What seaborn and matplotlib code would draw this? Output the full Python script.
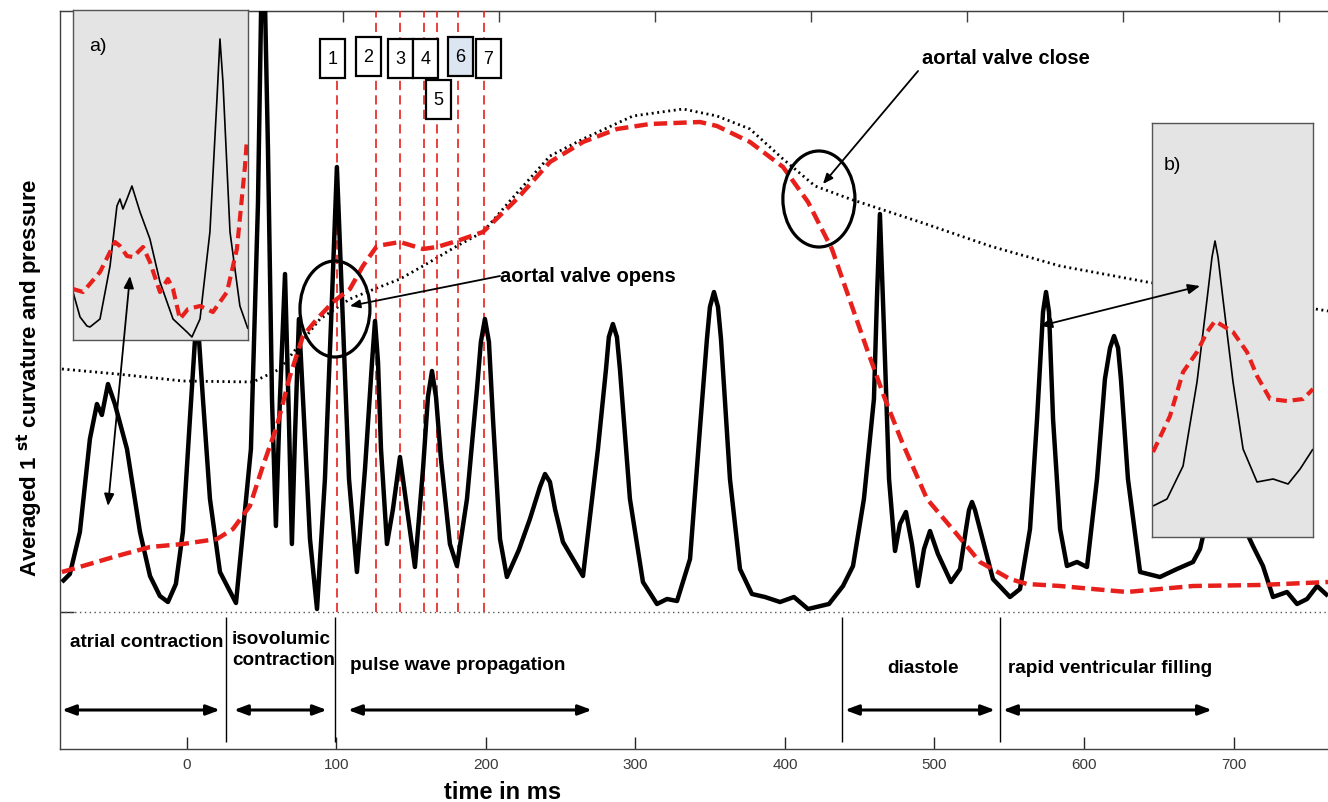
import numpy as np
import pandas as pd
import seaborn as sns
import matplotlib.pyplot as plt
from matplotlib.patches import Ellipse, Rectangle, FancyArrowPatch

sns.set_style('ticks')
plt.rcParams['font.family'] = ['Liberation Sans', 'DejaVu Sans']
plt.rcParams['text.color'] = 'black'
NARROW = ['Liberation Sans Narrow', 'Liberation Sans']

# averaged 1st curvature (time in ms, arbitrary units above the dotted baseline)
curv_t = [-83.6, -78.3, -71.6, -64.9, -60.2, -56.9, -52.8, -48.2, -40.1, -31.4, -24.7, -18.1, -12.7, -7.4,
          -2.7, 2.0, 6.7, 10.7, 15.4, 22.1, 32.8, 42.8, 47.5, 50.8, 54.2, 56.9, 59.5, 62.2, 65.6, 68.2,
          70.2, 72.2, 74.9, 78.3, 82.3, 87.0, 92.3, 97.0, 100.3, 103.7, 108.4, 113.7, 119.1, 123.8, 125.8,
          127.8, 129.8, 133.8, 137.8, 142.5, 147.2, 152.5, 157.9, 161.2, 163.9, 166.6, 169.9, 175.9, 180.6,
          187.3, 194.0, 196.6, 199.3, 202.0, 204.7, 209.4, 214.0, 222.0, 229.4, 236.1, 239.5, 242.8, 246.2,
          251.5, 256.2, 264.9, 274.9, 280.3, 282.2, 284.9, 287.6, 289.6, 296.3, 305.0, 314.4, 321.1, 327.8,
          336.5, 343.1, 347.8, 349.8, 352.5, 355.2, 357.2, 363.2, 369.9, 377.9, 386.6, 396.7, 406.0,
          415.4, 429.4, 438.8, 445.5, 452.8, 459.5, 461.5, 463.5, 466.2, 469.6, 473.6, 476.9, 480.9, 484.9,
          488.9, 493.0, 497.0, 502.3, 511.0, 517.1, 521.1, 523.1, 525.1, 527.1, 530.4, 539.1, 550.5, 557.2,
          563.9, 568.6, 572.6, 574.6, 576.6, 579.3, 584.0, 588.6, 595.3, 602.0, 608.7, 614.0, 617.4, 620.1,
          622.8, 624.7, 629.4, 637.5, 650.8, 662.2, 672.9, 677.6, 682.3, 687.6, 694.3, 701.0, 707.7, 713.0,
          719.7, 726.4, 735.8, 742.5, 749.2, 755.9, 763.2]
curv_y = [30, 38, 80, 173, 208, 197, 228, 208, 163, 80, 36, 16, 10, 28,
          80, 193, 303, 213, 113, 40, 9, 163, 408, 713, 463, 213, 86, 213, 338, 193,
          68, 173, 293, 193, 73, 3, 133, 313, 445, 313, 133, 40, 143, 250, 291,
          250, 163, 68, 103, 155, 103, 45, 143, 215, 241, 215, 153, 68, 46,
          113, 223, 270, 293, 270, 193, 73, 35, 62, 93, 125, 138, 130, 103,
          70, 58, 36, 163, 243, 275, 288, 275, 243, 113, 30, 8, 13, 11,
          53, 183, 273, 305, 320, 305, 273, 133, 43, 18, 15, 10, 15,
          3, 8, 26, 46, 113, 213, 313, 398, 283, 133, 61, 88, 100, 68,
          26, 63, 81, 58, 30, 43, 83, 102, 110, 102, 83, 33, 15, 23,
          83, 193, 300, 320, 300, 193, 83, 46, 50, 45, 133, 233, 264, 276,
          264, 233, 133, 40, 35, 43, 50, 63, 93, 213, 293, 213, 83, 66,
          46, 15, 20, 8, 13, 26, 16]

# ventricular pressure (red dashed)
press_t = [-83.6, -69.6, -46.8, -24.7, -2.7, 20.1, 30.8, 42.1, 50.8, 60.2, 68.9, 77.6, 87.0, 97.7, 109.0,
           117.7, 127.1, 142.5, 157.9, 167.2, 180.6, 198.0, 220.7, 242.8, 264.9, 287.6, 309.7, 343.1, 354.5,
           376.6, 398.7, 415.4, 431.4, 454.8, 466.9, 478.3, 495.0, 513.7, 530.4, 550.5, 561.9, 584.0, 606.0,
           628.8, 650.8, 672.9, 717.7, 763.2]
press_y = [40, 46, 56, 65, 68, 73, 83, 106, 146, 186, 236, 276, 293, 310, 323,
           346, 366, 370, 363, 365, 371, 380, 413, 450, 470, 483, 488, 490, 486,
           470, 445, 410, 363, 263, 213, 170, 113, 80, 50, 33, 28, 26, 23,
           20, 23, 26, 27, 30]

# aortic pressure (black dotted)
aorta_t = [-83.6, -46.8, -2.7, 44.1, 62.2, 75.6, 89.0, 109.0, 120.4, 142.5, 157.9, 180.6, 198.0, 215.4,
           242.8, 264.9, 298.3, 331.8, 354.5, 376.6, 398.7, 420.1, 443.5, 490.3, 537.1, 584.0, 642.1, 763.2]
aorta_y = [243, 238, 231, 230, 243, 268, 293, 313, 320, 333, 346, 366, 380, 410,
           456, 473, 496, 503, 496, 483, 453, 426, 413, 390, 366, 346, 330, 301]

# inset a)
ins_a_t = [-91.0, -86.3, -81.7, -79.7, -73.0, -66.3, -61.7, -59.7, -57.7, -55.0, -51.7, -46.3, -39.7,
           -33.0, -24.3, -15.0, -11.7, -6.3, 0.3, 5.0, 7.0, 9.0, 13.7, 20.3, 25.7]
ins_a_curv = [48, 23, 14, 13, 21, 74, 134, 141, 131, 141, 154, 128, 101,
              58, 21, 8, 3, 21, 108, 241, 301, 258, 108, 34, 11]
ins_a_pt = [-91.0, -84.3, -73.0, -63.0, -59.7, -55.0, -51.0, -44.3, -39.7, -33.0, -27.7, -24.3, -19.7,
            -14.3, -6.3, 2.3, 11.7, 18.3, 23.7, 25.0]
ins_a_press = [51, 48, 68, 98, 94, 84, 83, 93, 78, 48, 61, 51, 21,
               31, 34, 28, 48, 91, 174, 201]

# inset b)
ins_b_t = [646.7, 656.0, 666.7, 676.0, 682.7, 686.0, 688.0, 690.0, 693.3, 700.0, 706.7, 716.0, 726.7,
           736.7, 744.7, 753.3]
ins_b_curv = [31, 38, 71, 155, 238, 280, 296, 280, 238, 155, 88, 55, 58, 53, 68, 88]
ins_b_pt = [646.7, 658.0, 666.7, 676.0, 682.7, 688.0, 700.0, 709.3, 716.0, 724.7, 736.0, 746.7, 753.3]
ins_b_press = [85, 121, 165, 185, 205, 216, 205, 185, 161, 138, 136, 138, 148]

# event markers 1..7
marker_t = [100.5, 126.4, 142.5, 158.7, 167.4, 181.5, 198.7]
marker_labels = ['1', '2', '3', '4', '5', '6', '7']
box_left = [89.0, 113.0, 134.4, 151.2, 159.9, 174.6, 193.3]
box_bottom = [534, 536, 534, 534, 493, 536, 534]

# heart cycle phases
phase_bounds = [26.1, 99.0, 438.1, 543.8]
phase_names = ['atrial contraction', 'isovolumic\ncontraction', 'pulse wave propagation', 'diastole',
               'rapid ventricular filling']
phase_text_pos = [(-78.3, -30), (30.1, -37), (109.0, -53), (468.2, -56), (549.2, -56)]
phase_spans = [(-83.6, 22.1), (31.4, 93.6), (107.7, 270.9), (440.1, 540.5), (545.8, 685.6)]

RED = '#e8201c'

fig = plt.figure(figsize=(13.28, 8.03), dpi=100)
ax = fig.add_axes([60 / 1328, 53 / 803, 1268 / 1328, 738 / 803])


def curve(a, t, y, color, lw, ls=None, z=2):
    sns.lineplot(x=t, y=y, ax=a, sort=False, estimator=None, color=color, lw=lw, zorder=z)
    line = a.lines[-1]
    if ls is not None:
        line.set_linestyle(ls)
    line.set_solid_capstyle('butt')
    line.set_solid_joinstyle('round')
    return line


# dotted baseline
ax.axhline(0, color='#555555', lw=1, ls=(0, (1, 2.5)), zorder=1)

# marker lines
for i, t in enumerate(marker_t):
    top = box_bottom[0] if i == 0 else 601
    ax.vlines(t, 0, top, color=RED, lw=1.2, linestyles=[(0, (5.5, 3.2))], zorder=3)

curve(ax, aorta_t, aorta_y, 'black', 2.0, (0, (0.7, 1.3)), z=2)
curve(ax, curv_t, curv_y, 'black', 3.2, z=4)
curve(ax, press_t, press_y, RED, 3.2, (0, (3.0, 1.4)), z=5)

for lft, bot, lbl in zip(box_left, box_bottom, marker_labels):
    fc = '#dce6f2' if lbl == '6' else 'white'
    ax.add_patch(Rectangle((lft, bot), 16.7, 39, fc=fc, ec='black', lw=1.6, zorder=6))
    ax.text(lft + 8.35, bot + 19.5, lbl, ha='center', va='center', fontsize=13, zorder=7)

# circles + annotations
ax.add_patch(Ellipse((99, 303), 46.8, 96, fill=False, ec='black', lw=2.3, zorder=6))
ax.add_patch(Ellipse((422.7, 413), 48.2, 96, fill=False, ec='black', lw=2.3, zorder=6))
ax.annotate('', xy=(109, 306), xytext=(209.4, 336),
            arrowprops=dict(arrowstyle='-|>,head_length=0.6,head_width=0.25', lw=1.3, color='black',
                            shrinkA=0, shrinkB=0), zorder=7)
ax.text(209.4, 336, 'aortal valve opens', ha='left', va='center', fontsize=14.5, fontweight='bold', zorder=7)
ax.annotate('', xy=(425.4, 428), xytext=(489, 541),
            arrowprops=dict(arrowstyle='-|>,head_length=0.6,head_width=0.25', lw=1.3, color='black',
                            shrinkA=0, shrinkB=0), zorder=7)
ax.text(547.8, 555, 'aortal valve close', ha='center', va='center', fontsize=14.5, fontweight='bold', zorder=7)

# phases
for b in phase_bounds:
    ax.vlines(b, -130, -5, color='black', lw=1.0)
for (x, y), name in zip(phase_text_pos, phase_names):
    ax.text(x, y, name, ha='left', va='center', fontsize=13.6, fontweight='bold', family=NARROW,
            linespacing=1.25)
for a0, a1 in phase_spans:
    ax.annotate('', xy=(a1, -98), xytext=(a0, -98),
                arrowprops=dict(arrowstyle='<|-|>,head_length=0.8,head_width=0.3', lw=2.2, color='black',
                                shrinkA=0, shrinkB=0))

ax.set_xlim(-84.9, 763.2)
ax.set_ylim(-137, 601)
ax.set_xticks([0, 100, 200, 300, 400, 500, 600, 700])
ax.set_yticks([0])
ax.set_yticklabels([''])
ax.tick_params(axis='x', direction='in', length=9, width=1, labelsize=11, labelcolor='#3a3a3a', pad=6)
ax.tick_params(axis='y', direction='in', length=10, width=1)
for lbl in ax.get_xticklabels():
    lbl.set_family(NARROW)
sec = ax.secondary_xaxis('top')
sec.set_xticks([104.3, 208.7, 313.0, 417.4, 521.7, 626.1, 730.4])
sec.set_xticklabels([])
sec.tick_params(direction='in', length=8, width=1, colors='#404040')
for side in ['left', 'bottom', 'top']:
    ax.spines[side].set_color('#404040')
    ax.spines[side].set_linewidth(1.0)
sec.spines['top'].set_color('#404040')
ax.spines['right'].set_visible(False)
ax.set_xlabel('')
ax.set_ylabel('')

# inset a)
axa = fig.add_axes([73 / 1328, 462 / 803, 175 / 1328, 330 / 803])
axa.set_facecolor('#e4e4e4')
curve(axa, ins_a_t, ins_a_curv, 'black', 1.2)
curve(axa, ins_a_pt, ins_a_press, RED, 3.0, (0, (2.6, 1.4)), z=3)
axa.set_xlim(-91, 25.7)
axa.set_ylim(0, 330)
axa.text(0.09, 0.88, 'a)', transform=axa.transAxes, fontsize=14)

# inset b)
axb = fig.add_axes([1152 / 1328, 265 / 803, 161 / 1328, 414 / 803])
axb.set_facecolor('#e4e4e4')
curve(axb, ins_b_t, ins_b_curv, 'black', 1.2)
curve(axb, ins_b_pt, ins_b_press, RED, 3.0, (0, (2.6, 1.4)), z=3)
axb.set_xlim(646, 753.3)
axb.set_ylim(0, 414)
axb.text(0.07, 0.89, 'b)', transform=axb.transAxes, fontsize=14)

for a in (axa, axb):
    a.set_xticks([])
    a.set_yticks([])
    a.set_xlabel('')
    a.set_ylabel('')
    for s in a.spines.values():
        s.set_color('#555555')
        s.set_linewidth(1.0)

# double arrows linking insets to the main curves
for pa, pb in [((-38.1, 336), (-52.8, 106)), ((570.6, 286), (677.6, 326))]:
    fig.add_artist(FancyArrowPatch(pa, pb, transform=ax.transData,
                                   arrowstyle='<|-|>,head_length=0.6,head_width=0.25',
                                   mutation_scale=12, lw=1.3, color='black', shrinkA=0, shrinkB=0))

fig.text(30 / 1328, 1 - 378 / 803, r'Averaged 1 $^{\mathbf{st}}$ curvature and pressure', rotation=90,
         ha='center', va='center', fontsize=16, fontweight='bold')
fig.text(503 / 1328, 1 - 793 / 803, 'time in ms', ha='center', va='center', fontsize=17, fontweight='bold',
         family=NARROW)

fig.savefig('out.png', dpi=100, facecolor='white')
